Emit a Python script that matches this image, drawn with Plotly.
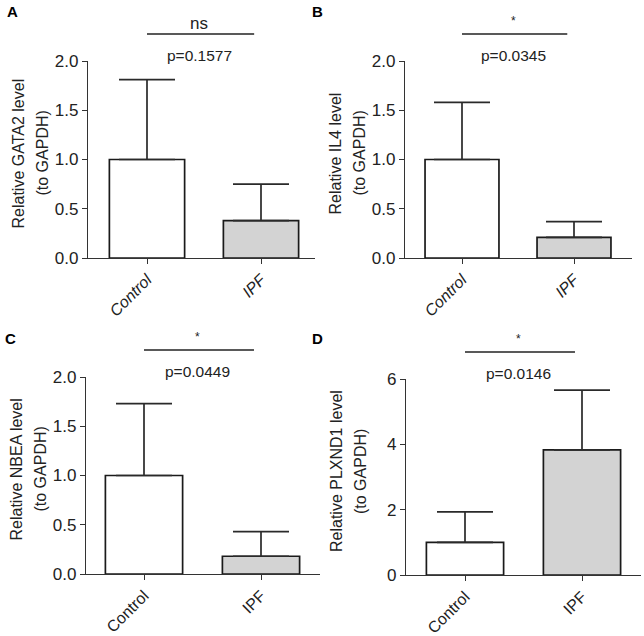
import plotly.graph_objects as go

W, H = 644, 636

categories = ["Control", "IPF"]
genes = ["GATA2", "IL4", "NBEA", "PLXND1"]
panel_letters = ["A", "B", "C", "D"]
means = {
    "GATA2": [1.0, 0.38],
    "IL4": [1.0, 0.21],
    "NBEA": [1.0, 0.18],
    "PLXND1": [1.0, 3.83],
}
errors = {
    "GATA2": [0.81, 0.37],
    "IL4": [0.58, 0.16],
    "NBEA": [0.73, 0.25],
    "PLXND1": [0.93, 1.83],
}
p_values = ["p=0.1577", "p=0.0345", "p=0.0449", "p=0.0146"]
sig_marks = ["ns", "*", "*", "*"]
y_ticks = {
    "GATA2": [0, 0.5, 1.0, 1.5, 2.0],
    "IL4": [0, 0.5, 1.0, 1.5, 2.0],
    "NBEA": [0, 0.5, 1.0, 1.5, 2.0],
    "PLXND1": [0, 2, 4, 6],
}
y_ranges = {"GATA2": [0, 2], "IL4": [0, 2], "NBEA": [0, 2], "PLXND1": [0, 6]}
italic_labels = [True, True, False, False]

# layout in pixels: (axis left, axis right, tick0 px, tick1 px, y top px, y bottom px)
geom = [
    (88, 315, 147, 261, 61, 258),
    (405, 632, 462, 574, 61, 258),
    (86, 320, 144, 261, 377, 574),
    (406, 641, 465, 582, 379, 575),
]
letter_pos = [(12, 11), (317, 11), (10, 338), (317, 338)]

FONT = "Liberation Sans, Arial, sans-serif"
AX = "#333333"

fig = go.Figure()
layout = dict(width=W, height=H, margin=dict(l=0, r=0, t=0, b=0, autoexpand=False),
              paper_bgcolor="white", plot_bgcolor="white", showlegend=False,
              font=dict(family=FONT, color="#222222"))
annotations = []
shapes = []

for i, g in enumerate(genes):
    L, R, t0, t1, yt, yb = geom[i]
    unit = t1 - t0
    xr = [(L - t0) / unit, (R - t0) / unit]
    sfx = "" if i == 0 else str(i + 1)
    xa, ya = "x" + sfx, "y" + sfx
    fig.add_trace(go.Bar(
        x=[0, 1], y=means[g], width=0.66,
        marker=dict(color=["white", "#d3d3d3"], line=dict(color="#1a1a1a", width=1.7)),
        error_y=dict(type="data", symmetric=False, array=errors[g], arrayminus=[0, 0],
                     color="#2a2a2a", thickness=1.7, width=28),
        xaxis=xa, yaxis=ya, cliponaxis=False,
    ))
    lab = ["<i>%s</i>" % c for c in categories] if italic_labels[i] else categories
    layout["xaxis" + sfx] = dict(
        domain=[L / W, R / W], range=xr, anchor=ya, tickmode="array", automargin=False,
        tickvals=[0, 1], ticktext=lab, tickangle=-45, ticks="outside", ticklen=5,
        tickwidth=1.3, tickcolor=AX, showline=True, linecolor=AX, linewidth=1.3,
        showgrid=False, zeroline=False, tickfont=dict(size=16, color="#222"), fixedrange=True,
    )
    layout["yaxis" + sfx] = dict(
        domain=[1 - yb / H, 1 - yt / H], range=y_ranges[g], anchor=xa, automargin=False,
        tickmode="array", tickvals=y_ticks[g],
        ticktext=[("%.1f" % v) if g != "PLXND1" else "%d" % v for v in y_ticks[g]],
        ticks="outside", ticklen=5, tickwidth=1.3, tickcolor=AX, showline=True,
        linecolor=AX, linewidth=1.3, showgrid=False, zeroline=False,
        tickfont=dict(size=17, color="#222"), fixedrange=True,
    )
    # y axis title (two lines)
    tx = L - 58
    yc = (yt + yb) / 2 - 6
    annotations.append(dict(text="Relative %s level" % g, x=(tx - 12) / W, y=1 - yc / H,
                            xref="paper", yref="paper", textangle=-90, showarrow=False,
                            xanchor="center", yanchor="middle", font=dict(size=16, color="#222")))
    annotations.append(dict(text="(to GAPDH)", x=(tx + 12) / W, y=1 - yc / H,
                            xref="paper", yref="paper", textangle=-90, showarrow=False,
                            xanchor="center", yanchor="middle", font=dict(size=16, color="#222")))
    # significance bar
    line_y = yt - 27
    shapes.append(dict(type="line", xref=xa, yref="paper", x0=0, x1=0.94,
                       y0=1 - line_y / H, y1=1 - line_y / H,
                       line=dict(color="#222", width=1.5)))
    annotations.append(dict(text=p_values[i], x=0.46, xref=xa, y=1 - (yt - 6) / H, yref="paper",
                            showarrow=False, xanchor="center", yanchor="middle",
                            font=dict(size=15.5, color="#222")))
    sy = line_y - (10 if sig_marks[i] == "ns" else 13)
    annotations.append(dict(text=sig_marks[i], x=0.46, xref=xa, y=1 - sy / H, yref="paper",
                            showarrow=False, xanchor="center", yanchor="middle",
                            font=dict(size=17 if sig_marks[i] == "ns" else 12, color="#222")))
    lx, ly = letter_pos[i]
    annotations.append(dict(text="<b>%s</b>" % panel_letters[i], x=lx / W, y=1 - ly / H,
                            xref="paper", yref="paper", showarrow=False,
                            xanchor="center", yanchor="middle",
                            font=dict(size=15, color="#000")))

layout["annotations"] = annotations
layout["shapes"] = shapes
fig.update_layout(**layout)
fig.write_html("out.html")
